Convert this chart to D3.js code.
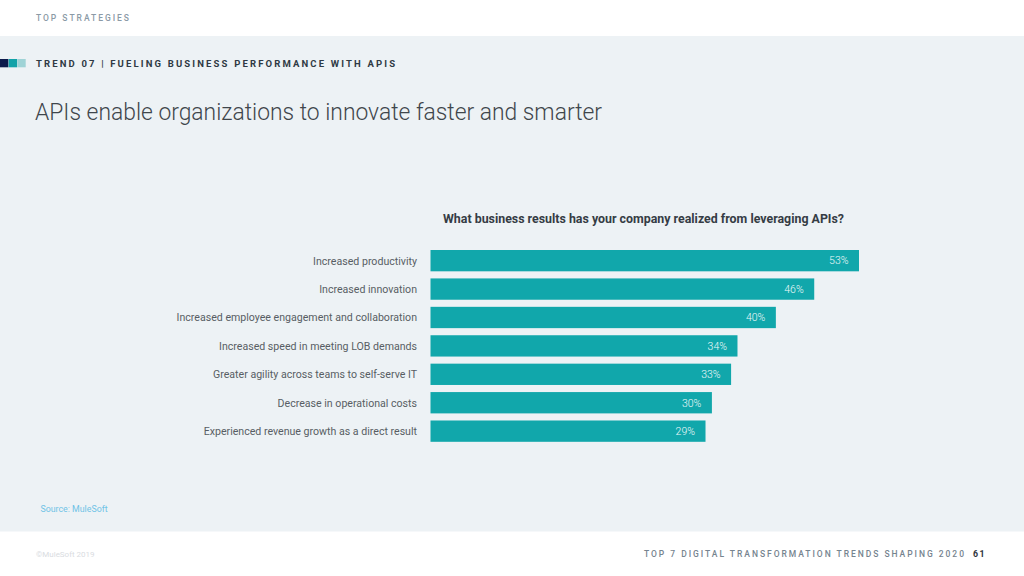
<!DOCTYPE html>
<html><head><meta charset="utf-8">
<script src="https://cdn.jsdelivr.net/npm/d3@7"></script>
<style>
html,body{margin:0;padding:0;background:#fff;}
svg{display:block;font-family:Roboto,"DejaVu Sans",sans-serif;}
</style></head>
<body>
<svg id="c" width="1024" height="576"></svg>
<script>
const categories = [
  "Increased productivity",
  "Increased innovation",
  "Increased employee engagement and collaboration",
  "Increased speed in meeting LOB demands",
  "Greater agility across teams to self-serve IT",
  "Decrease in operational costs",
  "Experienced revenue growth as a direct result"
];
const values = [53, 46, 40, 34, 33, 30, 29];
const valueLabels = ["53%", "46%", "40%", "34%", "33%", "30%", "29%"];

const svg = d3.select("#c");
// background bands
svg.append("rect").attr("x",0).attr("y",0).attr("width",1024).attr("height",576).attr("fill","#ffffff");
svg.append("rect").attr("x",0).attr("y",36).attr("width",1024).attr("height",495.5).attr("fill","#edf2f5");

// header
svg.append("text").attr("x",36).attr("y",21).attr("font-size",8.5).attr("font-weight",500)
  .attr("fill","#8b9aa6").attr("textLength",93).attr("lengthAdjust","spacing").text("TOP STRATEGIES");

const deco = [["#0c1a4b",0],["#12a2a8",8.7],["#9fd3d6",17.3]];
svg.selectAll("rect.deco").data(deco).enter().append("rect").attr("class","deco")
  .attr("x",d=>d[1]).attr("y",59).attr("width",8.4).attr("height",8.3).attr("fill",d=>d[0]);

svg.append("text").attr("x",36).attr("y",67).attr("font-size",9.5).attr("font-weight",700)
  .attr("fill","#2f3a44").attr("textLength",359).attr("lengthAdjust","spacing")
  .text("TREND 07 | FUELING BUSINESS PERFORMANCE WITH APIS");

svg.append("text").attr("x",35).attr("y",119.5).attr("font-size",24).attr("font-weight",300)
  .attr("fill","#3f464c").attr("textLength",567).attr("lengthAdjust","spacingAndGlyphs")
  .text("APIs enable organizations to innovate faster and smarter");

svg.append("text").attr("x",443).attr("y",222.5).attr("font-size",12.2)
  .attr("font-weight",700).attr("fill","#353c44").attr("textLength",401).attr("lengthAdjust","spacingAndGlyphs")
  .text("What business results has your company realized from leveraging APIs?");

// chart
const x = d3.scaleLinear().domain([-14, 53]).range([430.5, 859]);
const y = d3.scaleBand().domain(categories).range([250, 441.8]).paddingInner(0.25).paddingOuter(0);

const g = svg.append("g");
g.selectAll("rect.bar").data(values).enter().append("rect").attr("class","bar")
  .attr("x", x(-14)).attr("y",(d,i)=>y(categories[i]))
  .attr("width", d=>x(d)-x(-14)).attr("height", y.bandwidth())
  .attr("fill","#11a7ab");

g.selectAll("text.val").data(values).enter().append("text").attr("class","val")
  .attr("x", d=>x(d)-10.5).attr("y",(d,i)=>y(categories[i])+y.bandwidth()/2+3.8)
  .attr("text-anchor","end").attr("font-size",10.5).attr("font-weight",300).attr("fill","#eef9f9")
  .text((d,i)=>valueLabels[i]);

g.selectAll("text.cat").data(categories).enter().append("text").attr("class","cat")
  .attr("x",417).attr("y",d=>y(d)+y.bandwidth()/2+4)
  .attr("text-anchor","end").attr("font-size",10.6).attr("fill","#585e64")
  .text(d=>d);

// footers
svg.append("text").attr("x",40.5).attr("y",512).attr("font-size",8.8).attr("fill","#6fc3e6")
  .text("Source: MuleSoft");
svg.append("text").attr("x",36).attr("y",556.5).attr("font-size",8).attr("fill","#d9dcdf")
  .text("©MuleSoft 2019");
svg.append("text").attr("x",644).attr("y",557).attr("font-size",8.5).attr("font-weight",500)
  .attr("fill","#76848f").attr("textLength",320).attr("lengthAdjust","spacing")
  .text("TOP 7 DIGITAL TRANSFORMATION TRENDS SHAPING 2020");
svg.append("text").attr("x",973).attr("y",557).attr("font-size",8.8).attr("font-weight",700)
  .attr("fill","#2f353b").attr("letter-spacing",1.5).text("61");
</script>
</body></html>
